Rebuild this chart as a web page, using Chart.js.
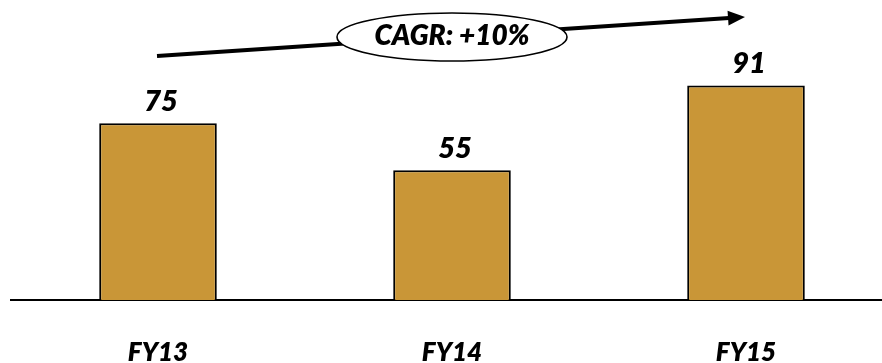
<!DOCTYPE html>
<html>
<head>
<meta charset="utf-8">
<script src="https://cdn.jsdelivr.net/npm/chart.js@4/dist/chart.umd.min.js"></script>
<style>
  html, body { margin: 0; padding: 0; background: #fff; overflow: hidden; }
  #wrap { width: 882px; height: 363px; overflow: hidden; position: relative; }
  canvas { display: block; }
</style>
</head>
<body>
<div id="wrap"><canvas id="c" width="894" height="363"></canvas></div>
<script>
// Fiscal years and values
const categories = ['FY13', 'FY14', 'FY15'];
const values = [75, 55, 91];
const valueMax = 120;

// Growth callout: arrow from FY13 to FY15, bubble over FY14 (category index, value)
const cagrText = 'CAGR: +10%';
const arrowFrom = [0, 103.5];
const arrowTo = [2, 120];
const bubbleAt = [1, 111.5];

const FONT = 'Lato, "Open Sans", sans-serif';
const WEIGHT = '800';

const valueLabels = {
  id: 'valueLabels',
  afterDatasetsDraw(chart) {
    const ctx = chart.ctx;
    const meta = chart.getDatasetMeta(0);
    ctx.save();
    ctx.font = 'italic ' + WEIGHT + ' 29px ' + FONT;
    ctx.fillStyle = '#000';
    ctx.textAlign = 'center';
    ctx.textBaseline = 'alphabetic';
    meta.data.forEach((bar, i) => {
      ctx.fillText(String(values[i]), bar.x + 3, bar.y - 12.5);
    });
    ctx.restore();
  }
};

const growthCallout = {
  id: 'growthCallout',
  afterDatasetsDraw(chart) {
    const ctx = chart.ctx;
    const xs = chart.scales.x, ys = chart.scales.y;
    const sx = xs.getPixelForValue(arrowFrom[0]) - 1, sy = ys.getPixelForValue(arrowFrom[1]);
    const tx = xs.getPixelForValue(arrowTo[0]) - 1, ty = ys.getPixelForValue(arrowTo[1]);
    const dx = tx - sx, dy = ty - sy, len = Math.hypot(dx, dy);
    const ux = dx / len, uy = dy / len;
    const headLen = 17, headHalf = 7.5;
    const bx = tx - ux * headLen, by = ty - uy * headLen;

    ctx.save();
    // shaft
    ctx.strokeStyle = '#000';
    ctx.lineWidth = 4;
    ctx.beginPath();
    ctx.moveTo(sx, sy);
    ctx.lineTo(bx + ux, by + uy);
    ctx.stroke();
    // head
    ctx.fillStyle = '#000';
    ctx.beginPath();
    ctx.moveTo(tx, ty);
    ctx.lineTo(bx - uy * headHalf, by + ux * headHalf);
    ctx.lineTo(bx + uy * headHalf, by - ux * headHalf);
    ctx.closePath();
    ctx.fill();

    // bubble
    const cx = xs.getPixelForValue(bubbleAt[0]), cy = ys.getPixelForValue(bubbleAt[1]);
    ctx.beginPath();
    ctx.ellipse(cx, cy, 115, 24, 0, 0, Math.PI * 2);
    ctx.fillStyle = '#fff';
    ctx.fill();
    ctx.lineWidth = 1.6;
    ctx.strokeStyle = '#000';
    ctx.stroke();

    ctx.font = 'italic ' + WEIGHT + ' 28px ' + FONT;
    ctx.fillStyle = '#000';
    ctx.textAlign = 'center';
    ctx.textBaseline = 'alphabetic';
    ctx.fillText(cagrText, cx, cy + 8);
    ctx.restore();
  }
};

new Chart(document.getElementById('c'), {
  type: 'bar',
  data: {
    labels: categories,
    datasets: [{
      data: values,
      backgroundColor: '#C99637',
      borderColor: '#000',
      borderWidth: 2,
      barPercentage: 0.4,
      categoryPercentage: 1.0
    }]
  },
  options: {
    responsive: false,
    animation: false,
    layout: { padding: { left: 11, right: 1, top: 17, bottom: 0 } },
    plugins: { legend: { display: false }, tooltip: { enabled: false } },
    scales: {
      x: {
        offset: true,
        grid: { display: false, drawTicks: false },
        border: { display: true, color: '#000', width: 2 },
        ticks: {
          color: '#000',
          padding: 37,
          font: { family: FONT, size: 26, style: 'italic', weight: WEIGHT }
        },
        afterFit(scale) { scale.height = 63; }
      },
      y: {
        display: false,
        min: 0,
        max: valueMax
      }
    }
  },
  plugins: [valueLabels, growthCallout]
});
</script>
</body>
</html>
